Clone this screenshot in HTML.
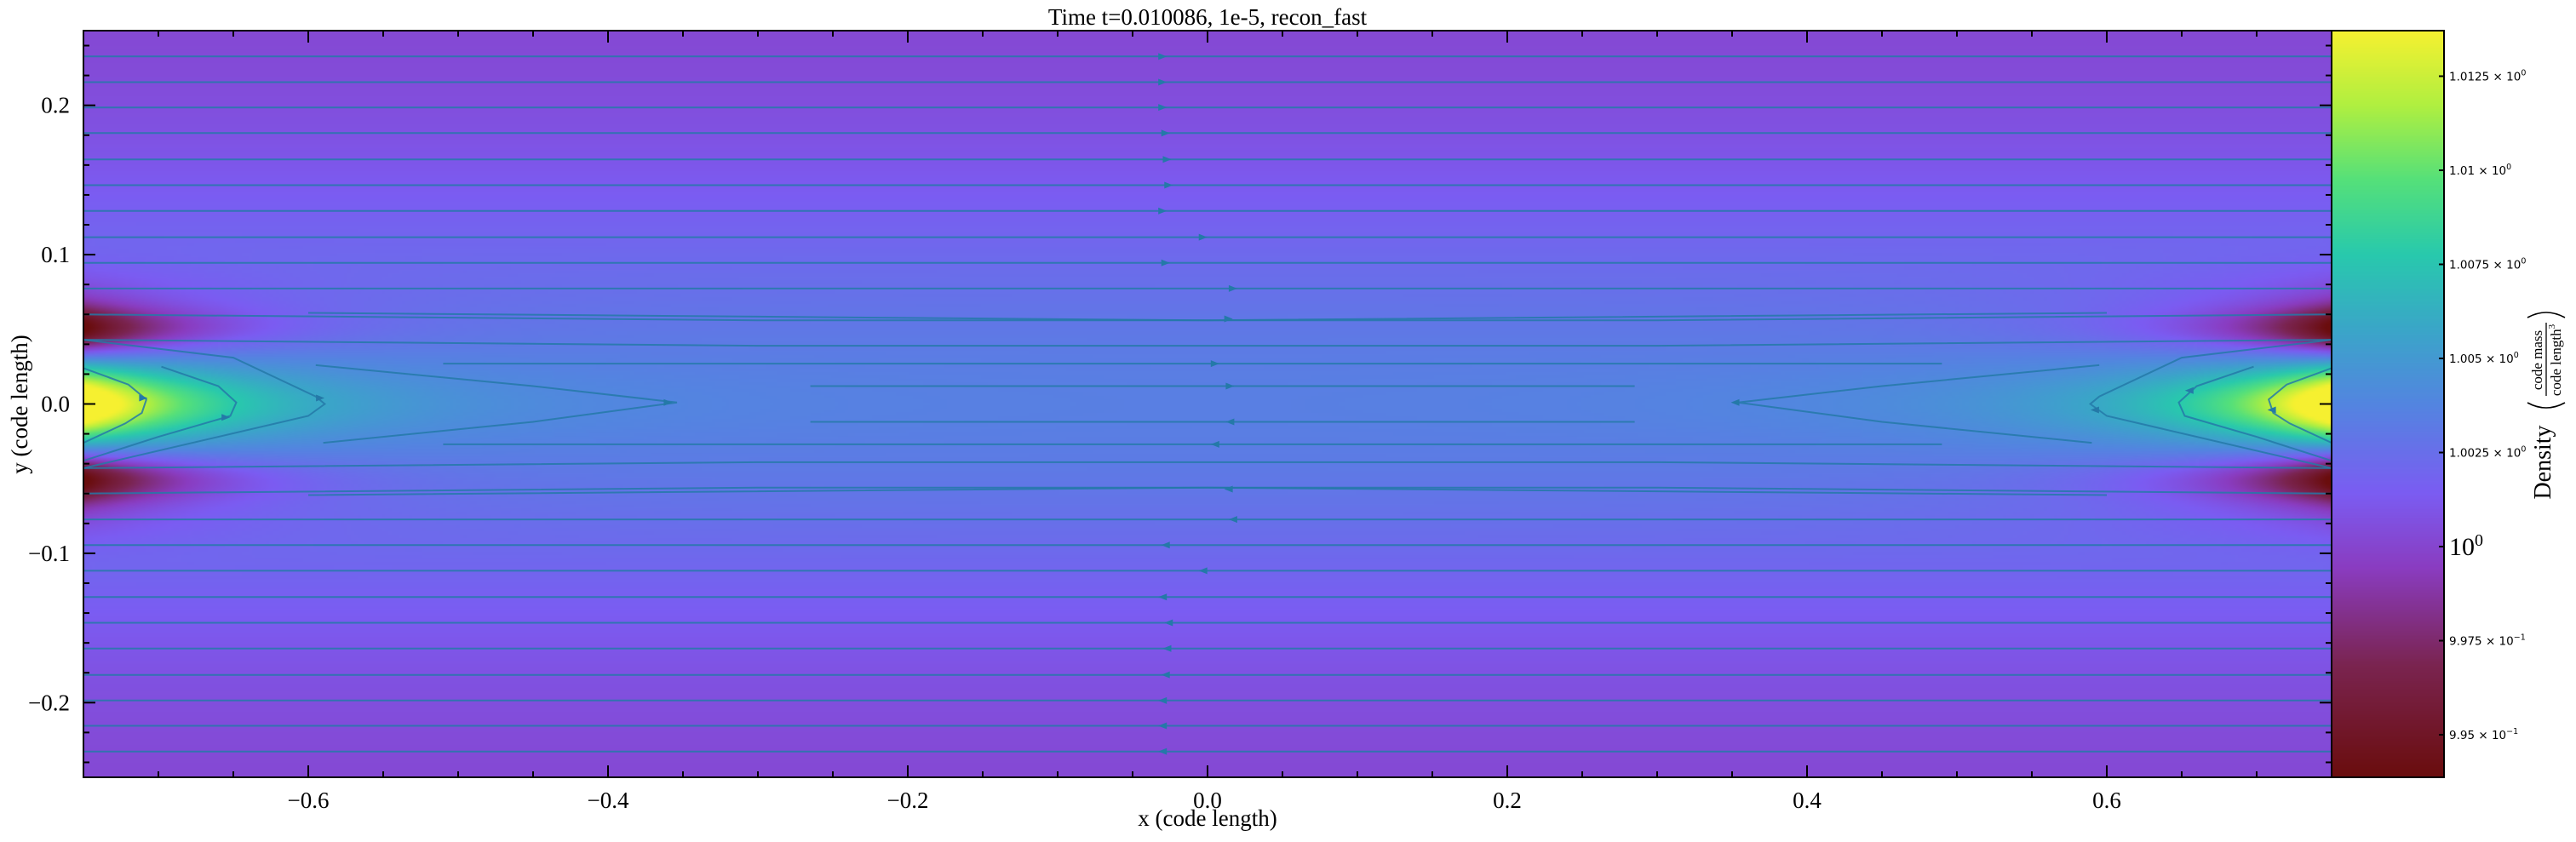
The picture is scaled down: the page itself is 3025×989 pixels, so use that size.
<!DOCTYPE html>
<html><head><meta charset="utf-8">
<style>
html,body{margin:0;padding:0;background:#fff;}
#wrap{position:relative;width:3025px;height:989px;overflow:hidden;font-family:"Liberation Serif",serif;}
canvas{position:absolute;}
svg{position:absolute;left:0;top:0;}
</style></head>
<body>
<div id="wrap">
<canvas id="field" width="660" height="220" style="left:98px;top:36px;width:2640px;height:877px;"></canvas>
<canvas id="cbar" width="10" height="400" style="left:2738px;top:36px;width:132px;height:877px;"></canvas>
<svg id="ov" width="3025" height="989"></svg>
</div>
<script>
// ---- data ----
const xTicks = [-0.6,-0.4,-0.2,0.0,0.2,0.4,0.6];
const xTickLabels = ["\u22120.6","\u22120.4","\u22120.2","0.0","0.2","0.4","0.6"];
const yTicks = [0.2,0.1,0.0,-0.1,-0.2];
const yTickLabels = ["0.2","0.1","0.0","\u22120.1","\u22120.2"];
const cbTicks = [1.0125,1.01,1.0075,1.005,1.0025,1.0,0.9975,0.995];
const cbMant = ["1.0125","1.01","1.0075","1.005","1.0025","","9.975","9.95"];
const cbExp = ["0","0","0","0","0","0","\u22121","\u22121"];
const fullLineY = [0.2327,0.2155,0.1986,0.1814,0.1638,0.1465,0.1293,0.1117,0.0945,0.0773];
const arrowX = [-0.03,-0.03,-0.03,-0.028,-0.027,-0.026,-0.03,-0.003,-0.028,0.017];
const edgeLineY = [0.060,0.043];
const parabolaA = [[-0.75,0.024],[-0.72,0.013],[-0.708,0.003],[-0.711,-0.006],[-0.722,-0.013],[-0.75,-0.026]];
const parabolaB = [[-0.698,0.025],[-0.66,0.012],[-0.648,0.001],[-0.652,-0.008],[-0.7,-0.022],[-0.75,-0.038]];
const parabolaC = [[-0.75,0.043],[-0.65,0.031],[-0.595,0.005],[-0.589,0.0],[-0.6,-0.008],[-0.75,-0.043]];
const parabolaD = [[-0.595,0.026],[-0.45,0.012],[-0.354,0.001],[-0.45,-0.012],[-0.59,-0.026]];
const innerLineY = [0.027,0.012];
const innerLineX = [[-0.51,0.49],[-0.265,0.285]];
const vmin = 0.99387, vmax = 1.01371;

const X0=98,X1=2738,Y0=36,Y1=913;
const X = x => X0 + (x+0.75)/1.5*(X1-X0);
const Y = y => Y0 + (0.25-y)/0.5*(Y1-Y0);
const CB = v => Y1 - (v-vmin)/(vmax-vmin)*(Y1-Y0);

const stops=[[0,[106,13,13]],[0.15,[122,36,80]],[0.28,[138,60,192]],[0.38,[123,92,242]],[0.5,[83,133,224]],[0.6,[58,166,200]],[0.7,[40,201,173]],[0.8,[85,224,122]],[0.9,[176,239,64]],[1,[246,240,48]]];
function cmap(t){t=Math.max(0,Math.min(1,t));for(let i=1;i<stops.length;i++){if(t<=stops[i][0]){const a=stops[i-1],b=stops[i];const f=(t-a[0])/(b[0]-a[0]);return a[1].map((c,k)=>Math.round(c+(b[1][k]-c)*f));}}return stops[stops.length-1][1];}
function rho(x,y){const ay=Math.abs(y);let r=1.0+0.0034*Math.exp(-Math.pow(ay/0.15,2));
 const d=0.75-Math.abs(x);const E=Math.exp(-d/0.07);
 r+=E*(0.0105*Math.exp(-Math.pow(y/0.022,2))-0.0095*Math.exp(-Math.pow((ay-0.05)/0.016,2)));
 r+=0.0035*Math.exp(-d/0.17)*Math.exp(-Math.pow(y/0.03,2));
 r-=0.0018*Math.exp(-d/0.12)*Math.exp(-Math.pow((ay-0.075)/0.02,2));
 return r;}
(function(){const c=document.getElementById('field');const g=c.getContext('2d');const W=c.width,H=c.height;const im=g.createImageData(W,H);
for(let j=0;j<H;j++){const y=0.25-(j+0.5)/H*0.5;for(let i=0;i<W;i++){const x=-0.75+(i+0.5)/W*1.5;const col=cmap((rho(x,y)-vmin)/(vmax-vmin));const p=(j*W+i)*4;im.data[p]=col[0];im.data[p+1]=col[1];im.data[p+2]=col[2];im.data[p+3]=255;}}g.putImageData(im,0,0);
const cb=document.getElementById('cbar');const h=cb.getContext('2d');const ci=h.createImageData(10,400);for(let j=0;j<400;j++){const col=cmap(1-(j+0.5)/400);for(let i=0;i<10;i++){const p=(j*10+i)*4;ci.data[p]=col[0];ci.data[p+1]=col[1];ci.data[p+2]=col[2];ci.data[p+3]=255;}}h.putImageData(ci,0,0);})();

const NS='http://www.w3.org/2000/svg';const svg=document.getElementById('ov');
function mk(tag,attrs,parent){const e=document.createElementNS(NS,tag);for(const k in attrs)e.setAttribute(k,attrs[k]);(parent||svg).appendChild(e);return e;}
const sl=mk('g',{fill:'none',stroke:'#2479a8','stroke-width':2,'stroke-opacity':0.85});


function poly(pts,name){const e=mk('polyline',{points:pts.map(p=>X(p[0]).toFixed(1)+','+Y(p[1]).toFixed(1)).join(' ')},sl);}
function arrow(x,y,dir){const px=X(x),py=Y(y);const e=mk('polygon',{points:`${px+5*dir},${py} ${px-5*dir},${py-4} ${px-5*dir},${py+4}`,fill:'#2479a8',stroke:'none'},sl);}
fullLineY.forEach((y,i)=>{[1,-1].forEach(s=>{poly([[-0.75,s*y],[0.75,s*y]],'streamline');arrow(arrowX[i],s*y,s);});});
edgeLineY.forEach(y=>{[1,-1].forEach(s=>{poly([[-0.75,s*y],[-0.3,s*(y-0.004)],[0.3,s*(y-0.004)],[0.75,s*y]],'streamline');});});
[1,-1].forEach(s=>{poly([[-0.6,s*0.061],[0,s*0.056],[0.6,s*0.061]],'streamline');arrow(0.014,s*0.057,s);});
innerLineY.forEach((y,i)=>{[1,-1].forEach(s=>{poly([[innerLineX[i][0],s*y],[innerLineX[i][1],s*y]],'streamline');arrow(0.005+0.01*i,s*y,s);});});
[parabolaA,parabolaB,parabolaC,parabolaD].forEach(P=>{poly(P,'streamline-curve');poly(P.map(p=>[-p[0],p[1]]),'streamline-curve');});
arrow(-0.71,0.004,1);arrow(-0.655,-0.009,1);arrow(-0.592,0.004,1);arrow(-0.36,0.001,1);
arrow(0.71,-0.004,-1);arrow(0.655,0.009,-1);arrow(0.592,-0.004,-1);arrow(0.352,0.001,-1);

// axes frame + ticks
const ax=mk('g',{stroke:'#000','stroke-width':2});


mk('rect',{x:X0,y:Y0,width:X1-X0,height:Y1-Y0,fill:'none'},ax);
mk('rect',{x:X1,y:Y0,width:132,height:Y1-Y0,fill:'none'},ax);
for(let v=-0.75;v<=0.7501;v+=0.05){const x=X(v);const major=Math.abs(Math.round(v*10)-v*10)<1e-6&&Math.round(v*10)%2===0;const L=major?14:7;mk('line',{x1:x,y1:Y1,x2:x,y2:Y1-L},ax);mk('line',{x1:x,y1:Y0,x2:x,y2:Y0+L},ax);}
for(let v=-0.24;v<=0.2401;v+=0.02){const y=Y(v);const major=Math.abs(v*10-Math.round(v*10))<1e-6;const L=major?14:7;mk('line',{x1:X0,y1:y,x2:X0+L,y2:y},ax);mk('line',{x1:X1,y1:y,x2:X1-L,y2:y},ax);}
const tg=mk('g',{'font-family':'"Liberation Serif",serif','font-size':27,fill:'#000'});
xTicks.forEach((v,i)=>{const t=mk('text',{x:X(v),y:Y1+36,'text-anchor':'middle'},tg);t.textContent=xTickLabels[i];});
yTicks.forEach((v,i)=>{const t=mk('text',{x:X0-16,y:Y(v)+9,'text-anchor':'end'},tg);t.textContent=yTickLabels[i];});
cbTicks.forEach((v,i)=>{const y=CB(v);mk('line',{x1:2870,y1:y,x2:2864,y2:y},ax);
 if(cbMant[i]===''){const t=mk('text',{x:2876,y:y+10,'font-family':'"Liberation Serif",serif','font-size':30});t.innerHTML='10<tspan dy="-11" font-size="20">0</tspan>';}
 else{const t=mk('text',{x:2876,y:y+5,'font-family':'"DejaVu Sans",sans-serif','font-size':13.5});t.innerHTML=cbMant[i]+' \u00d7 10<tspan dy="-6" font-size="9.5">'+cbExp[i]+'</tspan>';}});
</script>
<svg width="3025" height="989" style="position:absolute;left:0;top:0;pointer-events:none">
<text x="1418" y="29" text-anchor="middle" font-family="Liberation Serif, serif" font-size="27">Time t=0.010086, 1e-5, recon_fast</text>
<text x="1418" y="970" text-anchor="middle" font-family="Liberation Serif, serif" font-size="27">x  (code length)</text>
<text transform="translate(32,475) rotate(-90)" text-anchor="middle" font-family="Liberation Serif, serif" font-size="27">y  (code length)</text>
<g transform="translate(2995,475) rotate(-90)" font-family="Liberation Serif, serif">
<text x="-68" y="0" text-anchor="middle" font-size="28">Density</text>
<path d="M 2 -27 Q -10 -5 2 17" fill="none" stroke="#000" stroke-width="1.6"/>
<path d="M 102 -27 Q 114 -5 102 17" fill="none" stroke="#000" stroke-width="1.6"/>
<text x="52" y="-10" text-anchor="middle" font-size="17">code mass</text>
<line x1="10" y1="-5" x2="96" y2="-5" stroke="#000" stroke-width="1.3"/>
<text x="52" y="12" text-anchor="middle" font-size="17">code length<tspan dy="-7" font-size="11">3</tspan></text>
</g>
</svg>
</body></html>
